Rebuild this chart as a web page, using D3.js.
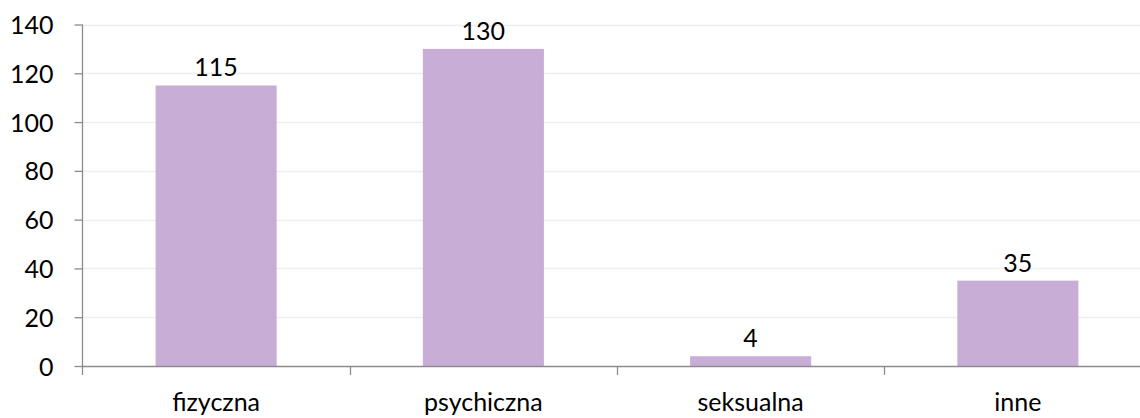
<!DOCTYPE html>
<html><head><meta charset="utf-8">
<script src="https://cdn.jsdelivr.net/npm/d3@7"></script>
<style>body{margin:0;background:#fff}svg{display:block}</style>
</head><body>
<svg id="c" width="1140" height="418"></svg>
<script>
const categories = ["fizyczna", "psychiczna", "seksualna", "inne"];
const values = [115, 130, 4, 35];
const yTicks = [0, 20, 40, 60, 80, 100, 120, 140];

const svg = d3.select("#c");
const font = "Lato, 'Open Sans', sans-serif";
const fs = 25;
const x = d3.scaleBand().domain(categories).range([82.5, 1151.5]).paddingInner(0.547).paddingOuter(0.2735);
const xb = d3.scaleBand().domain(categories).range([82.5, 1151.5]);
const y = d3.scaleLinear().domain([0, 140]).range([366, 24.5]);

// gridlines
svg.append("g").selectAll("line").data(yTicks.filter(d => d > 0)).join("line")
  .attr("x1", 82.5).attr("x2", 1140).attr("y1", d => Math.round(y(d)) + 0.5).attr("y2", d => Math.round(y(d)) + 0.5)
  .attr("stroke", "#eeeeee").attr("stroke-width", 1.3);

// bars
svg.append("g").selectAll("rect").data(values).join("rect")
  .attr("x", (d, i) => x(categories[i])).attr("width", x.bandwidth())
  .attr("y", d => y(d)).attr("height", d => y(0) - y(d))
  .attr("fill", "#c8aed6");

// value labels
svg.append("g").selectAll("text").data(values).join("text")
  .attr("x", (d, i) => x(categories[i]) + x.bandwidth() / 2)
  .attr("y", d => y(d) - 9)
  .attr("text-anchor", "middle").attr("font-family", font).attr("font-size", fs).attr("fill", "#000")
  .text(d => d);

// y axis
const ya = svg.append("g").attr("transform", "translate(82.5,0)")
  .call(d3.axisLeft(y).tickValues(yTicks).tickSize(8).tickPadding(21).tickFormat(d3.format("d")));
ya.select(".domain").attr("stroke", "#8c8c8c").attr("stroke-width", 1.3).attr("d", `M0,${y(140)}V${y(0) + 9}`);
ya.selectAll(".tick line").attr("stroke", "#8c8c8c").attr("stroke-width", 1.3);
ya.selectAll(".tick text").attr("font-family", font).attr("font-size", fs).attr("fill", "#000").attr("x", -29).attr("dy", "0.36em");

// x axis
const xa = svg.append("g").attr("transform", `translate(0,${y(0)})`)
  .call(d3.axisBottom(xb).tickSize(0).tickPadding(0));
xa.select(".domain").attr("stroke", "#8c8c8c").attr("stroke-width", 1.3);
xa.selectAll(".tick text").attr("font-family", font).attr("font-size", fs).attr("fill", "#000").attr("y", 45).attr("dy", 0);
// category boundary ticks
xa.append("g").selectAll("line").data(categories.slice(1)).join("line")
  .attr("x1", d => Math.round(xb(d)) + 0.5).attr("x2", d => Math.round(xb(d)) + 0.5)
  .attr("y1", 0).attr("y2", 9).attr("stroke", "#8c8c8c").attr("stroke-width", 1.3);
</script>
</body></html>
